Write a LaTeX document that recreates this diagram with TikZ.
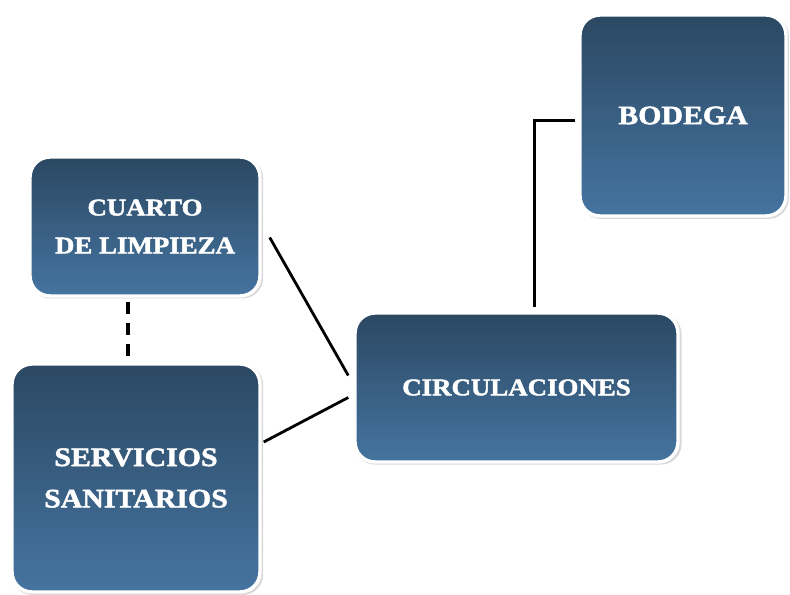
\documentclass[tikz,border=0pt]{standalone}
\usepackage{fontspec}
\newfontfamily\boxfont[FakeStretch=1.12,FakeBold=1.8]{Liberation Serif}
\usetikzlibrary{shadows}
\definecolor{boxtop}{RGB}{43,72,98}
\definecolor{boxbot}{RGB}{69,116,160}

\begin{document}
\begin{tikzpicture}[x=0.75pt,y=-0.75pt]
					\useasboundingbox (0,0) rectangle (790,594);
					\begin{scope}[every node/.style={rounded corners=15pt,draw=white,line width=2.6pt,top color=boxtop,bottom color=boxbot,text=white,align=center,inner sep=0pt,drop shadow={shadow scale=1.012,shadow xshift=1.2pt,shadow yshift=-1.2pt,opacity=0.3},font=\boxfont\bfseries\fontsize{18}{28.5}\selectfont}]
						\node[minimum width=154.5pt,minimum height=150.75pt,font=\boxfont\bfseries\fontsize{20}{30}\selectfont] (bodega) at (683,115.5) {BODEGA};
						\node[minimum width=172.5pt,minimum height=104.25pt] (cuarto) at (145,226.5) {CUARTO\\DE LIMPIEZA};
						\node[minimum width=186pt,minimum height=171pt,font=\boxfont\bfseries\fontsize{20}{31}\selectfont] (serv) at (136,478) {SERVICIOS\\SANITARIOS};
						\node[minimum width=242.25pt,minimum height=111.75pt] (circ) at (516.5,387.5) {CIRCULACIONES};
					\end{scope}
					
					\begin{scope}[every edge/.style={draw=black,line width=2.1pt}]
						\path ([shift={(8,11)}]cuarto.east) edge ([shift={(-5,-12)}]circ.west);
						\path ([shift={(2,-36)}]serv.east) edge ([shift={(-5,10)}]circ.west);
						\path ([shift={(-3,5)}]bodega.west) edge[to path={-| (\tikztotarget)}] ([shift={(18,-4)}]circ.north);
						\path ([shift={(-17,4)}]cuarto.south) edge[line width=2.7pt,dash pattern=on 9pt off 7pt] ([shift={(-8,-6)}]serv.north);
					\end{scope}
				\end{tikzpicture}
\end{document}
